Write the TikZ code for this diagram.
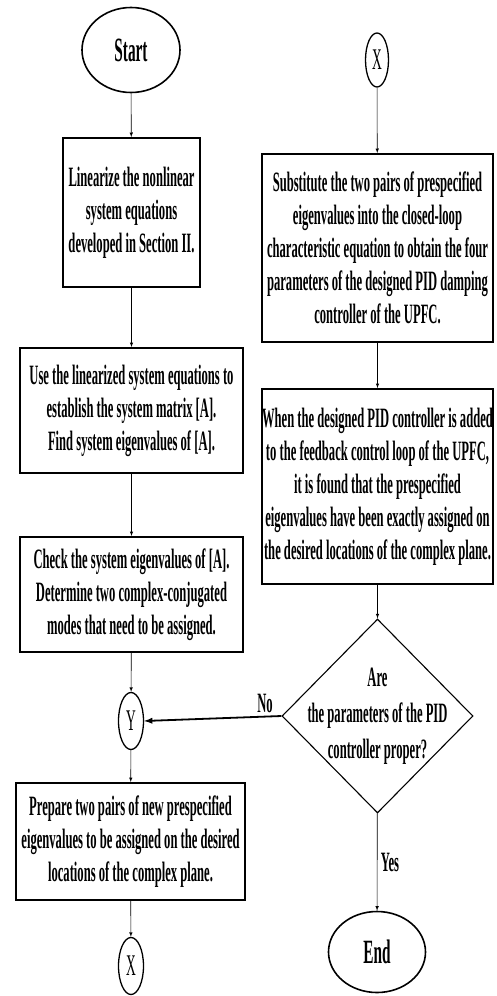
\documentclass[tikz,border=0pt]{standalone}
\usepackage{fontspec}
\setmainfont{Liberation Serif}[FakeStretch=0.45]
\usepackage{tikz}
\usetikzlibrary{arrows,shapes.geometric}

\begin{document}
\begin{tikzpicture}[x=1pt,y=-1pt,
	stepbox/.style={draw,line width=1.8pt,align=center,inner sep=0pt,font=\fontsize{28}{33}\selectfont\bfseries},
	terminal/.style={draw,ellipse,line width=1.6pt,inner sep=0pt,font=\fontsize{34}{40}\selectfont\bfseries},
	connector/.style={draw,ellipse,line width=1.3pt,inner sep=0pt,minimum width=25pt,minimum height=57pt,font=\fontsize{30}{36}\selectfont},
	decision/.style={draw,diamond,line width=1.1pt,inner sep=-24pt,align=center,font=\fontsize{28}{36}\selectfont\bfseries},
	flow/.style={-latex,line width=0.6pt},
	back/.style={-latex,line width=1.8pt}]
	\useasboundingbox (0,0) rectangle (497,996);
	% left column
	\node[terminal,minimum width=98pt,minimum height=85pt] (start) at (131,50) {Start};
	\node[stepbox,minimum width=137pt,minimum height=149pt] (lin) at (131.5,212.5)
		{Linearize the nonlinear\\system equations\\developed in Section II.};
	\node[stepbox,minimum width=223pt,minimum height=125pt] (mat) at (131.5,410.5)
		{Use the linearized system equations to\\establish the system matrix [A].\\Find system eigenvalues of [A].};
	\node[stepbox,minimum width=223pt,minimum height=115pt] (chk) at (131.5,594.5)
		{Check the system eigenvalues of [A].\\Determine two complex-conjugated\\modes that need to be assigned.};
	\node[connector] (y) at (131,721) {Y};
	\node[stepbox,minimum width=229pt,minimum height=117pt] (prep) at (130.5,841.5)
		{Prepare two pairs of new prespecified\\eigenvalues to be assigned on the desired\\locations of the complex plane.};
	\node[connector] (xout) at (131,966) {X};
	% right column
	\node[connector,minimum width=23pt,minimum height=54pt] (xin) at (377,60) {X};
	\node[stepbox,minimum width=231pt,minimum height=188pt] (sub) at (377.5,248)
		{Substitute the two pairs of prespecified\\eigenvalues into the closed-loop\\characteristic equation to obtain the four\\parameters of the designed PID damping\\controller of the UPFC.};
	\node[stepbox,minimum width=231pt,minimum height=195pt] (chkpid) at (377.5,486.5)
		{When the designed PID controller is added\\to the feedback control loop of the UPFC,\\it is found that the prespecified\\eigenvalues have been exactly assigned on\\the desired locations of the complex plane.};
	\node[decision,minimum width=191pt,minimum height=194pt,aspect=1] (ok) at (377.5,716)
		{Are\\the parameters of the PID\\controller proper?};
	\node[terminal,minimum width=97pt,minimum height=81pt] (end) at (377,952) {End};

	\draw[flow] (start) -- (lin);
	\draw[flow] (lin) -- (mat);
	\draw[flow] (mat) -- (chk);
	\draw[flow] (chk) -- (y);
	\draw[flow] (y) -- (prep);
	\draw[flow] (prep) -- (xout);
	\draw[flow] (xin) -- (sub);
	\draw[flow] (sub) -- (chkpid);
	\draw[flow] (chkpid) -- (ok);
	\draw[flow] (ok) -- node[right,font=\fontsize{28}{33}\selectfont\bfseries] {Yes} (end);
	\draw[back] (ok.west) -- node[pos=0.12,above,font=\fontsize{28}{33}\selectfont\bfseries] {No} (y.east);
\end{tikzpicture}
\end{document}
